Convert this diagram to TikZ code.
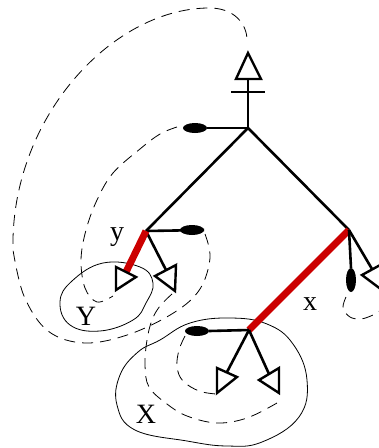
\documentclass[tikz,border=0pt]{standalone}
\usepackage{fontspec}
\setmainfont{Liberation Serif}
\usetikzlibrary{shapes.geometric}
\definecolor{tred}{RGB}{204,0,0}
\begin{document}
\begin{tikzpicture}[x=1pt,y=-1pt,
  edge/.style={line width=2.6pt},
  redge/.style={line width=7pt, tred},
  tri/.style={line width=2.4pt, fill=white, line join=miter},
  blob/.style={ellipse, fill=black, inner sep=0pt, minimum width=24pt, minimum height=10pt},
  vblob/.style={ellipse, fill=black, inner sep=0pt, minimum width=10pt, minimum height=24pt},
  dline/.style={line width=0.8pt, dash pattern=on 11pt off 7pt},
  region/.style={line width=0.8pt},
  lbl/.style={font=\fontsize{28}{30}\selectfont, inner sep=0pt}]
\useasboundingbox (0,0) rectangle (379,448);

% main points
\coordinate (R) at (248,128);
\coordinate (Yn) at (146,231);
\coordinate (Xr) at (349,230);
\coordinate (Xn) at (249,330);
\coordinate (Tb) at (248,79);
\coordinate (C1) at (231,92);
\coordinate (C2) at (265,92);
\coordinate (topend) at (247,40);

% ellipses
\node[blob] (e0) at (195,128) {};
\node[blob] (e1) at (192,230) {};
\node[vblob] (e2) at (351,280) {};
\node[blob] (e3) at (197,331) {};

% triangle ends
\coordinate (tY1) at (126,272);
\coordinate (tY2) at (166,270);
\coordinate (tR) at (372,269);
\coordinate (tX1) at (227,372);
\coordinate (tX2) at (269,374);

% regions
\draw[region] plot[smooth cycle, tension=0.7] coordinates {(103,263) (140,267) (153,283) (146,303) (133,320) (100,331) (70,325) (60,302) (72,281)};
\draw[region] plot[smooth cycle, tension=0.7] coordinates {(160,340) (190,323) (230,318) (267,324) (293,344) (307,380) (299,417) (262,442) (227,446) (187,441) (135,430) (117,405) (120,375) (138,352)};

% dashed connections
\draw[dline] plot[smooth, tension=0.6] coordinates {(205,234) (210,258) (200,289) (175,312) (130,334) (85,343) (48,331) (24,296) (13,250)}
  .. controls (10,120) and (110,10) .. (207,8) .. controls (235,7) and (247,25) .. (topend);
\draw[dline] plot[smooth, tension=0.6] coordinates {(177,127) (160,134) (140,149) (113,173) (97,200) (86,230) (81,260) (85,288) (97,302) (113,296)};
\draw[dline] plot[smooth, tension=0.6] coordinates {(172,294) (160,306) (152,320) (147,340) (145,365) (149,387) (167,404) (187,416) (217,423) (247,418) (277,403)};
\draw[dline] plot[smooth, tension=0.6] coordinates {(185,336) (179,350) (177,367) (183,381) (199,391) (216,394)};
\draw[dline] plot[smooth, tension=0.6] coordinates {(346,297) (343,308) (350,317) (361,319) (373,315) (381,310)};

% edges
\draw[edge] (R) -- (Tb);
\draw[edge] (C1) -- (C2);
\draw[edge] (e0.east) -- (R);
\draw[edge] (R) -- (Yn);
\draw[edge] (R) -- (Xr);
\draw[edge] (e1.east) -- (Yn);
\draw[edge] (Yn) -- (tY2);
\draw[redge] (Yn) -- (tY1);
\draw[redge] (Xr) -- (Xn);
\draw[edge] (Xr) -- (e2.north);
\draw[edge] (Xr) -- (tR);
\draw[edge] (e3.east) -- (Xn);
\draw[edge] (Xn) -- (tX1);
\draw[edge] (Xn) -- (tX2);

% triangles
\draw[tri] (248,53) -- (236,79) -- (261,79) -- cycle;
\draw[tri] (116,267) -- (136,277) -- (116,290) -- cycle;
\draw[tri] (155,276) -- (176,265) -- (175,291) -- cycle;
\draw[tri] (362,275) -- (382,264) -- (382,290) -- cycle;
\draw[tri] (217,368) -- (237,377) -- (217,393) -- cycle;
\draw[tri] (259,380) -- (279,368) -- (279,393) -- cycle;

% labels
\node[lbl] (ly) at (117,237) {y};
\node[lbl] (lY) at (86,316) {Y};
\node[lbl] (lx) at (310,304) {x};
\node[lbl] (lX) at (146,414) {X};
\end{tikzpicture}
\end{document}
